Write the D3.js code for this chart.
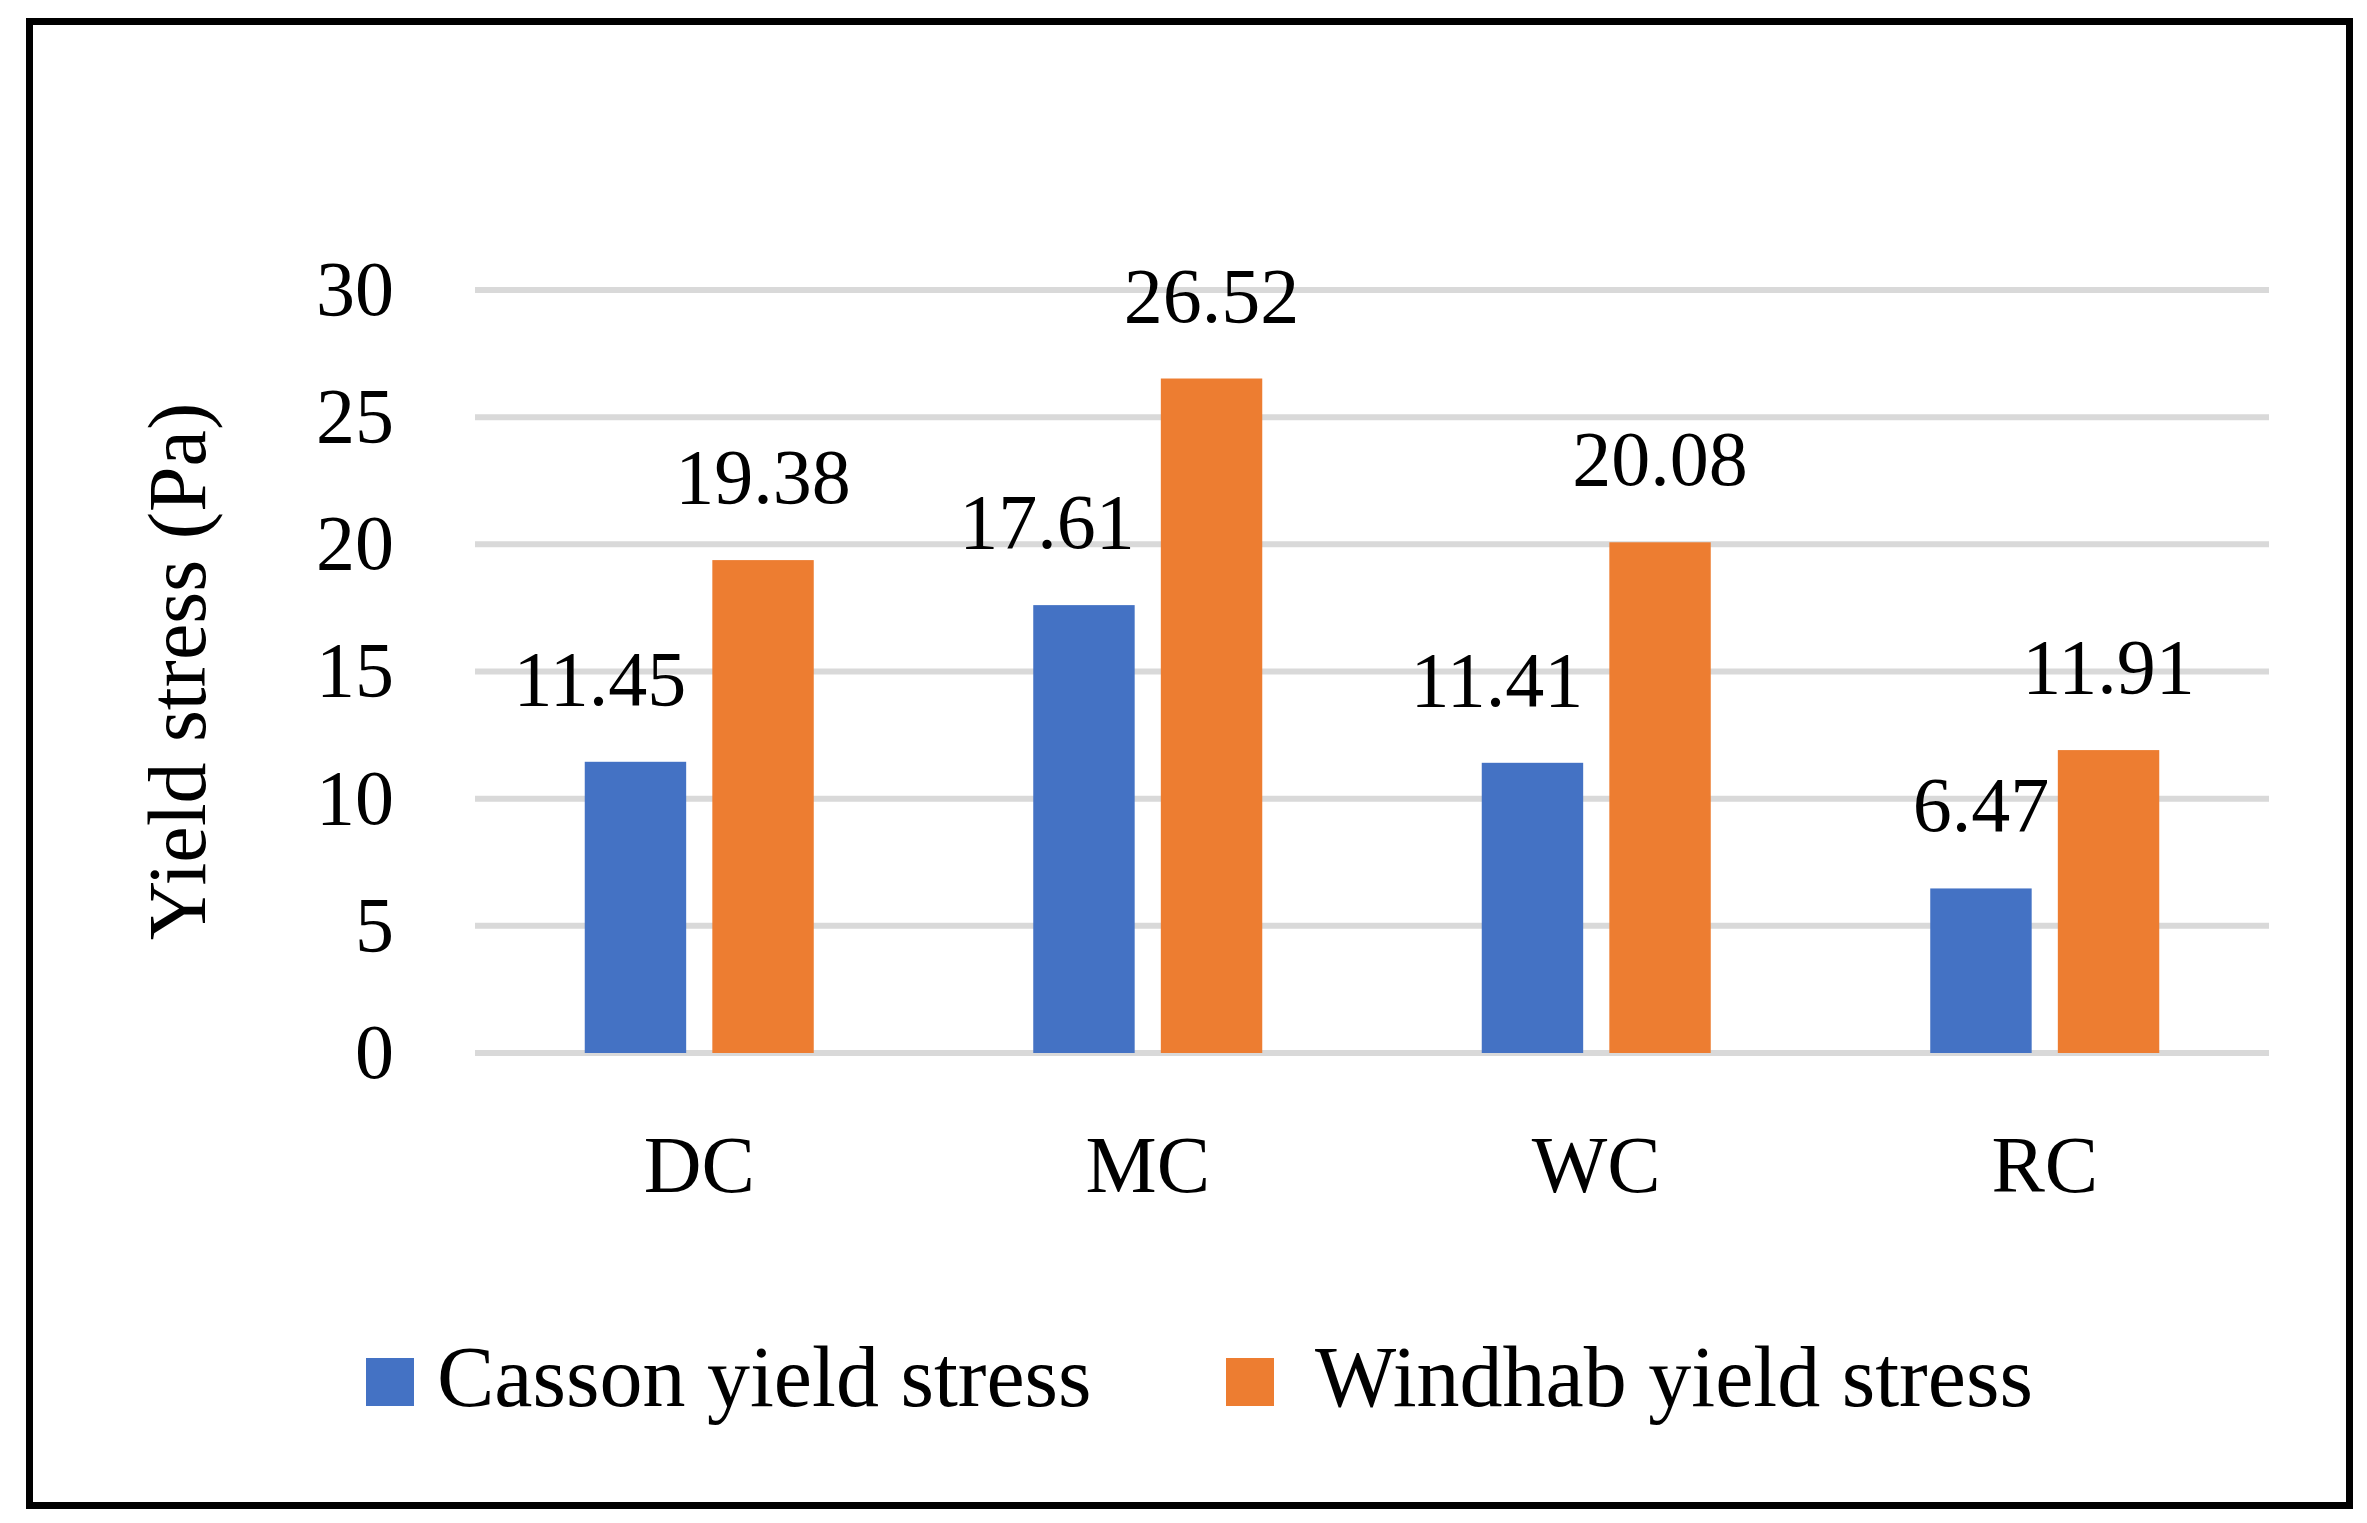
<!DOCTYPE html>
<html>
<head>
<meta charset="utf-8">
<script src="https://cdn.jsdelivr.net/npm/d3@7"></script>
<style>
  body { margin: 0; background: #fff; }
  text { font-family: "Liberation Serif", "DejaVu Serif", serif; fill: #000; }
</style>
</head>
<body>
<div id="chart"></div>
<script>
// data
const categories = ["DC", "MC", "WC", "RC"];
const seriesNames = ["Casson yield stress", "Windhab yield stress"];
const casson = [11.45, 17.61, 11.41, 6.47];
const windhab = [19.38, 26.52, 20.08, 11.91];
const yTicks = [0, 5, 10, 15, 20, 25, 30];

const colors = ["#4472C4", "#ED7D31"];
// blue labels sit flush with the bar's right edge except the last one
const labelAnchor = [["end", "end", "end", "middle"], ["middle", "middle", "middle", "middle"]];

const width = 2367, height = 1523;
const margins = { top: 290, right: 98, bottom: 470, left: 475 };

const svg = d3.select("#chart").append("svg")
    .attr("width", width).attr("height", height);

svg.append("rect").attr("width", width).attr("height", height).attr("fill", "#fff");

// outer frame
svg.append("rect")
    .attr("x", 29.5).attr("y", 21.5)
    .attr("width", 2320).attr("height", 1484)
    .attr("fill", "none").attr("stroke", "#000").attr("stroke-width", 7);

const x = d3.scaleBand().domain(categories)
    .range([margins.left, width - margins.right]).padding(0);
const xSub = d3.scaleBand().domain(seriesNames)
    .range([-114.5, 114.5]).paddingInner(0.205);
const y = d3.scaleLinear().domain([0, 30])
    .range([height - margins.bottom, margins.top]);

// gridlines
svg.append("g").selectAll("line").data(yTicks).join("line")
    .attr("x1", x.range()[0]).attr("x2", x.range()[1])
    .attr("y1", d => y(d)).attr("y2", d => y(d))
    .attr("stroke", "#D9D9D9").attr("stroke-width", 6);

// y tick labels
svg.append("g").selectAll("text").data(yTicks).join("text")
    .attr("x", 394).attr("y", d => y(d))
    .attr("dy", "0.32em")
    .attr("text-anchor", "end")
    .attr("font-size", 78)
    .text(d => d);

// y axis title
svg.append("text")
    .attr("transform", `translate(205,${(y(0) + y(30)) / 2}) rotate(-90)`)
    .attr("text-anchor", "middle")
    .attr("font-size", 82)
    .text("Yield stress (Pa)");

// bars
const allSeries = [casson, windhab];
allSeries.forEach((vals, si) => {
  const g = svg.append("g");
  const rows = categories.map((c, i) => ({ c, v: vals[i], i }));
  g.selectAll("rect").data(rows).join("rect")
      .attr("x", d => x(d.c) + x.bandwidth() / 2 + xSub(seriesNames[si]))
      .attr("y", d => y(d.v))
      .attr("width", xSub.bandwidth())
      .attr("height", d => y(0) - y(d.v))
      .attr("fill", colors[si]);
  g.selectAll("text").data(rows).join("text")
      .attr("x", d => {
        const left = x(d.c) + x.bandwidth() / 2 + xSub(seriesNames[si]);
        return labelAnchor[si][d.i] === "end" ? left + xSub.bandwidth() : left + xSub.bandwidth() / 2;
      })
      .attr("y", d => y(d.v) - 57)
      .attr("text-anchor", d => labelAnchor[si][d.i])
      .attr("font-size", 78)
      .text(d => d.v.toFixed(2));
});

// category labels
svg.append("g").selectAll("text").data(categories).join("text")
    .attr("x", d => x(d) + x.bandwidth() / 2)
    .attr("y", 1192)
    .attr("text-anchor", "middle")
    .attr("font-size", 80)
    .text(d => d);

// legend
const legendX = [366, 1226];
const legend = svg.append("g").selectAll("g").data(seriesNames).join("g")
    .attr("transform", (d, i) => `translate(${legendX[i]},1358)`);
legend.append("rect")
    .attr("width", 48).attr("height", 48)
    .attr("fill", (d, i) => colors[i]);
legend.append("text")
    .attr("x", (d, i) => i === 0 ? 71 : 89)
    .attr("y", 48)
    .attr("font-size", 86)
    .text(d => d);
</script>
</body>
</html>
